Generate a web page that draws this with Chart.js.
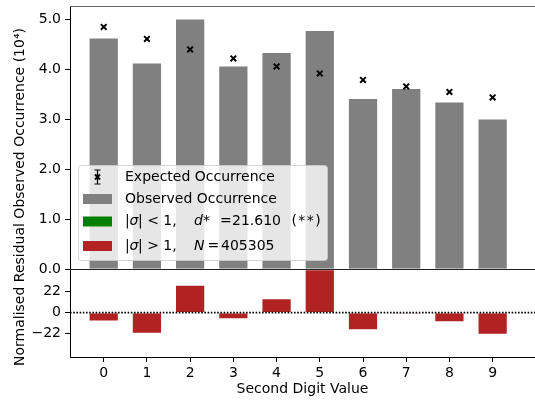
<!DOCTYPE html>
<html>
<head>
<meta charset="utf-8">
<script src="https://cdn.jsdelivr.net/npm/chart.js@4.4.1/dist/chart.umd.min.js"></script>
<style>
  html, body { margin: 0; padding: 0; background: #fff; }
  canvas { display: block; }
</style>
</head>
<body>
<canvas id="benfordChart" width="535" height="403"></canvas>
<script>
const digits = [0, 1, 2, 3, 4, 5, 6, 7, 8, 9];
// occurrences in units of 10^4
const observed = [4.64, 4.14, 5.02, 4.08, 4.35, 4.79, 3.43, 3.63, 3.36, 3.02];
const expected = [4.85, 4.61, 4.40, 4.22, 4.06, 3.92, 3.79, 3.66, 3.55, 3.44];
// normalised residuals
const residuals = [-9.3, -22, 28.9, -6.8, 14.9, 45, -18.2, -1.3, -9.9, -23];
const obsTicks = [0, 1, 2, 3, 4, 5];
const resTicks = [-22, 0, 22];

const FONT = 'DejaVu Sans';
Chart.defaults.font.family = FONT;
Chart.defaults.font.size = 14;
Chart.defaults.color = '#000';

const toPoints = vals => vals.map((v, i) => ({ x: digits[i], y: v }));

// draw pieces of text at given offsets (mathtext-like spacing)
function richText(ctx, x, y, parts) {
  for (const p of parts) {
    ctx.font = (p.it ? 'italic ' : '') + '14px "' + FONT + '"';
    ctx.fillText(p.t, x + p.dx, y);
  }
}

const extras = {
  id: 'extras',
  afterDatasetsDraw(chart) {
    const { ctx, chartArea: a, scales } = chart;
    ctx.save();
    // dotted zero line of the residual panel
    const y0 = scales.yRes.getPixelForValue(0);
    ctx.strokeStyle = '#000';
    ctx.lineWidth = 1.6;
    ctx.setLineDash([1.6, 1.6]);
    ctx.beginPath();
    ctx.moveTo(a.left, y0);
    ctx.lineTo(a.right, y0);
    ctx.stroke();
    ctx.restore();
  },
  afterDraw(chart) {
    const { ctx, chartArea: a, scales } = chart;
    ctx.save();
    // top spine + panel divider
    ctx.lineWidth = 1;
    ctx.strokeStyle = '#666';
    ctx.beginPath();
    ctx.moveTo(a.left, a.top + 0.5);
    ctx.lineTo(a.right, a.top + 0.5);
    ctx.stroke();
    ctx.strokeStyle = '#222';
    const yd = Math.round(scales.yObs.bottom) + 0.5;
    ctx.beginPath();
    ctx.moveTo(a.left, yd);
    ctx.lineTo(a.right, yd);
    ctx.stroke();

    // shared y title
    ctx.fillStyle = '#000';
    ctx.font = '14px "' + FONT + '"';
    ctx.textAlign = 'center';
    ctx.textBaseline = 'middle';
    ctx.translate(20, 197);
    ctx.rotate(-Math.PI / 2);
    ctx.fillText('Normalised Residual Observed Occurrence (10\u2074)', 0, 0);
    ctx.restore();

    // legend
    ctx.save();
    const lx = a.left + 8, ly = a.top + 159, lw = 249, lh = 95;
    ctx.fillStyle = 'rgba(255,255,255,0.8)';
    ctx.strokeStyle = 'rgba(204,204,204,0.8)';
    ctx.lineWidth = 1;
    ctx.beginPath();
    ctx.roundRect(lx + 0.5, ly + 0.5, lw, lh, 3);
    ctx.fill();
    ctx.stroke();

    const hx = lx + 5, hw = 29, tx = lx + 47;
    const rows = [ly + 12, ly + 34, ly + 56.5, ly + 81];
    // errorbar handle
    const cx = hx + hw / 2;
    ctx.strokeStyle = '#000';
    ctx.lineWidth = 1.2;
    ctx.beginPath();
    ctx.moveTo(cx, rows[0] - 7); ctx.lineTo(cx, rows[0] + 7);
    ctx.moveTo(cx - 3, rows[0] - 7); ctx.lineTo(cx + 3, rows[0] - 7);
    ctx.moveTo(cx - 3, rows[0] + 7); ctx.lineTo(cx + 3, rows[0] + 7);
    ctx.stroke();
    ctx.lineWidth = 2;
    ctx.beginPath();
    ctx.moveTo(cx - 2.5, rows[0] - 2.5); ctx.lineTo(cx + 2.5, rows[0] + 2.5);
    ctx.moveTo(cx + 2.5, rows[0] - 2.5); ctx.lineTo(cx - 2.5, rows[0] + 2.5);
    ctx.stroke();
    // patches
    const patches = ['#808080', '#008000', '#b22222'];
    patches.forEach((c, i) => {
      ctx.fillStyle = c;
      ctx.fillRect(hx, rows[i + 1] - 5, hw, 10);
    });
    ctx.fillStyle = '#000';
    ctx.textAlign = 'left';
    ctx.textBaseline = 'middle';
    richText(ctx, tx, rows[0], [{ t: 'Expected Occurrence', dx: 0 }]);
    richText(ctx, tx, rows[1], [{ t: 'Observed Occurrence', dx: 0 }]);
    richText(ctx, tx, rows[2], [
      { t: '|', dx: 0 }, { t: '\u03c3', dx: 4.5, it: true }, { t: '| < 1,', dx: 13 },
      { t: 'd', dx: 69, it: true }, { t: '*', dx: 78 }, { t: '=', dx: 95 },
      { t: '21.610', dx: 107 }, { t: '(\u200a*\u200a*\u200a)', dx: 166.5 }
    ]);
    richText(ctx, tx, rows[3], [
      { t: '|', dx: 0 }, { t: '\u03c3', dx: 4.5, it: true }, { t: '| > 1,', dx: 13 },
      { t: 'N', dx: 69, it: true }, { t: '=', dx: 82.5 }, { t: '405305', dx: 96 }
    ]);
    ctx.restore();
  }
};

const axisGrid = { drawOnChartArea: false, tickLength: 5, color: '#000', offset: false };
const noPad = s => { s.paddingLeft = 0; s.paddingRight = 0; s.paddingTop = 0; s.paddingBottom = 0; };

new Chart(document.getElementById('benfordChart'), {
  type: 'bar',
  data: {
    datasets: [
      {
        type: 'scatter',
        label: 'Expected Occurrence',
        data: toPoints(expected),
        yAxisID: 'yObs',
        pointStyle: 'crossRot',
        pointRadius: 4,
        borderWidth: 2,
        borderColor: '#000',
        backgroundColor: '#000',
        order: 0
      },
      {
        label: 'Observed Occurrence',
        data: toPoints(observed),
        yAxisID: 'yObs',
        backgroundColor: '#808080',
        borderColor: 'rgba(255,255,255,0.35)',
        borderWidth: 1,
        barPercentage: 0.7,
        categoryPercentage: 1,
        grouped: false,
        order: 1
      },
      {
        label: 'Residual',
        data: toPoints(residuals),
        yAxisID: 'yRes',
        backgroundColor: '#b22222',
        borderColor: 'rgba(255,255,255,0.35)',
        borderWidth: 1,
        barPercentage: 0.7,
        categoryPercentage: 1,
        grouped: false,
        order: 1
      }
    ]
  },
  options: {
    responsive: false,
    animation: false,
    layout: { autoPadding: false, padding: { top: 6, right: 0, left: 0, bottom: 0 } },
    plugins: { legend: { display: false }, tooltip: { enabled: false } },
    scales: {
      x: {
        type: 'linear',
        min: -0.78,
        max: 9.98,
        offset: false,
        afterBuildTicks: s => { s.ticks = digits.map(v => ({ value: v })); },
        afterFit: s => { s.height = 46; noPad(s); },
        grid: axisGrid,
        border: { color: '#000' },
        ticks: { padding: 3, maxRotation: 0, autoSkip: false },
        title: { display: true, text: 'Second Digit Value', padding: { top: 0, bottom: 5 } }
      },
      yRes: {
        type: 'linear',
        position: 'left',
        stack: 'panels',
        stackWeight: 1,
        min: -46,
        max: 45,
        afterBuildTicks: s => { s.ticks = resTicks.map(v => ({ value: v })); },
        afterFit: s => { s.width = 70; noPad(s); },
        ticks: { padding: 4, callback: v => v < 0 ? '\u2212' + Math.abs(v) : String(v) },
        grid: axisGrid,
        border: { color: '#000' }
      },
      yObs: {
        type: 'linear',
        position: 'left',
        stack: 'panels',
        stackWeight: 3,
        min: 0,
        max: 5.27,
        afterBuildTicks: s => { s.ticks = obsTicks.map(v => ({ value: v })); },
        afterFit: s => { s.width = 70; noPad(s); },
        ticks: { padding: 4, callback: v => v.toFixed(1) },
        grid: axisGrid,
        border: { color: '#000' }
      }
    }
  },
  plugins: [extras]
});
</script>
</body>
</html>
